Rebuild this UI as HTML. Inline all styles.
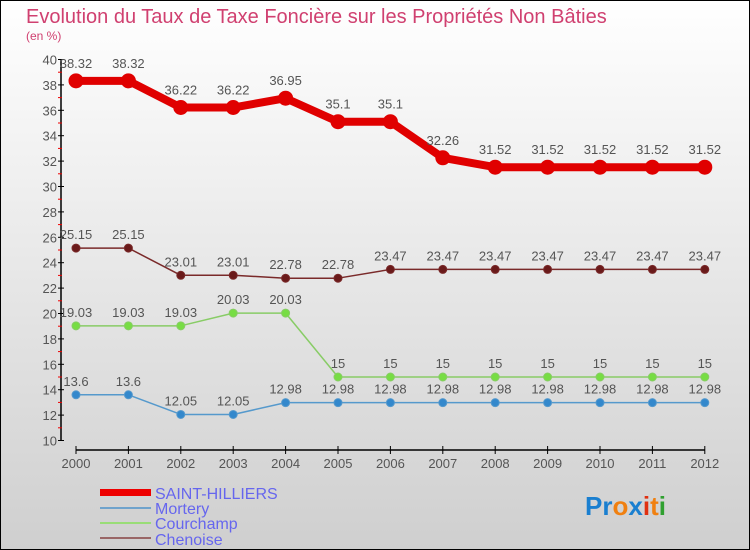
<!DOCTYPE html>
<html><head><meta charset="utf-8"><style>
body{margin:0}
svg{display:block;font-family:"Liberation Sans",sans-serif}
</style></head><body>
<svg width="750" height="550" xmlns="http://www.w3.org/2000/svg">
<defs><linearGradient id="bg" x1="0" y1="0" x2="0" y2="1"><stop offset="0" stop-color="#ffffff"/><stop offset="1" stop-color="#cfcfcf"/></linearGradient></defs>
<rect x="0.5" y="0.5" width="749" height="549" fill="url(#bg)" stroke="#000"/>
<text x="26" y="23" font-size="20" fill="#d04070">Evolution du Taux de Taxe Foncière sur les Propriétés Non Bâties</text>
<text x="26" y="40" font-size="12" fill="#d04070">(en %)</text>
<g id="axes"></g>
<g id="series"></g>
<g>
<rect x="100" y="489" width="51" height="7" fill="#e00"/>
<text x="155" y="499" font-size="16" fill="#6666ee">SAINT-HILLIERS</text>
<rect x="100" y="507" width="51" height="2" fill="#6fa3cc"/>
<text x="155" y="514" font-size="16" fill="#6666ee">Mortery</text>
<rect x="100" y="522" width="51" height="2" fill="#99dd77"/>
<text x="155" y="529" font-size="16" fill="#6666ee">Courchamp</text>
<rect x="100" y="537" width="51" height="2" fill="#996666"/>
<text x="155" y="545" font-size="16" fill="#6666ee">Chenoise</text>
</g>
<text x="585" y="515" font-size="26" font-weight="bold"><tspan fill="#1a7fd0">Pr</tspan><tspan fill="#f08010">o</tspan><tspan fill="#1a7fd0">x</tspan><tspan fill="#e03010">i</tspan><tspan fill="#f08010">t</tspan><tspan fill="#30a030">i</tspan></text>
</svg>
<script>
const years=[2000,2001,2002,2003,2004,2005,2006,2007,2008,2009,2010,2011,2012];
const saintHilliers=[38.32,38.32,36.22,36.22,36.95,35.1,35.1,32.26,31.52,31.52,31.52,31.52,31.52];
const mortery=[13.6,13.6,12.05,12.05,12.98,12.98,12.98,12.98,12.98,12.98,12.98,12.98,12.98];
const courchamp=[19.03,19.03,19.03,20.03,20.03,15,15,15,15,15,15,15,15];
const chenoise=[25.15,25.15,23.01,23.01,22.78,22.78,23.47,23.47,23.47,23.47,23.47,23.47,23.47];
const yTicks=[10,12,14,16,18,20,22,24,26,28,30,32,34,36,38,40];
const NS="http://www.w3.org/2000/svg";
const xs=i=>76+i*52.4;
const ys=v=>313.5-(v-20)*12.7;
function mk(tag,attrs,parent){const e=document.createElementNS(NS,tag);for(const k in attrs)e.setAttribute(k,attrs[k]);parent.appendChild(e);return e;}
const axes=document.getElementById('axes');
let a=mk('line',{x1:61,y1:ys(40),x2:61,y2:ys(10),stroke:'#000','stroke-width':1.5},axes);


yTicks.forEach(t=>{
 mk('line',{x1:58,x2:64,y1:ys(t),y2:ys(t),stroke:'#000'},axes);
 if(t<40) mk('line',{x1:58,x2:62,y1:ys(t+1),y2:ys(t+1),stroke:'#e00'},axes);
 const tx=mk('text',{x:57,y:ys(t)+5,'font-size':13,fill:'#555','text-anchor':'end'},axes);
 tx.textContent=t;
 
 
});
let xa=mk('line',{x1:xs(0),y1:450,x2:xs(12),y2:450,stroke:'#000','stroke-width':1.5},axes);


years.forEach((y,i)=>{
 mk('line',{x1:xs(i),x2:xs(i),y1:446,y2:454,stroke:'#000'},axes);
 const tx=mk('text',{x:xs(i),y:468,'font-size':13,fill:'#555','text-anchor':'middle'},axes);
 tx.textContent=y;
 
 
});
const sg=document.getElementById('series');
function series(name,vals,color,fill,w,r,lblOff){
 const g=mk('g',{},sg);
 
 
 const p=mk('polyline',{points:vals.map((v,i)=>xs(i)+','+ys(v)).join(' '),fill:'none',stroke:color,'stroke-width':w,'stroke-linejoin':'round'},g);
 
 
 vals.forEach((v,i)=>{
  const c=mk('circle',{cx:xs(i),cy:ys(v),r:r,fill:fill,stroke:color,'stroke-width':1},g);
  
  
  const t=mk('text',{x:xs(i),y:ys(v)-lblOff,'font-size':13,fill:'#555','text-anchor':'middle'},g);
  t.textContent=String(v);
  
  
 });
}
series('chenoise',chenoise,'#7a2a2a','#6a1a1a',1.5,4,9);
series('courchamp',courchamp,'#88cc66','#77dd44',1.5,4,9);
series('mortery',mortery,'#5599cc','#3388cc',1.5,4,9);
series('saint-hilliers',saintHilliers,'#e00000','#e00000',8,7,13);
</script>
</body></html>
